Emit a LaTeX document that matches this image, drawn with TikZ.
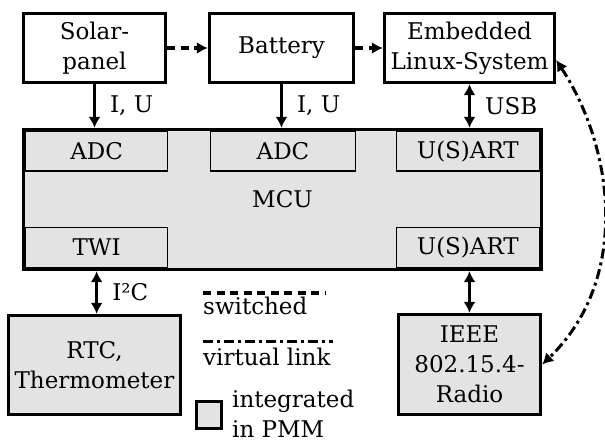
\documentclass[tikz,border=0pt]{standalone}
\usepackage{fontspec}
\setmainfont{DejaVu Serif}
\usetikzlibrary{arrows.meta}
\usetikzlibrary{positioning}
\usetikzlibrary{calc}
\definecolor{pmmgray}{HTML}{E3E3E3}

\begin{document}
\begin{tikzpicture}[x=1pt, y=-1pt,
    every node/.style={font=\fontsize{23}{30}\selectfont, inner sep=0pt},
    box/.style={rectangle, draw=black, line width=3.3pt, align=center},
    pmm/.style={box, fill=pmmgray},
    unit/.style={rectangle, draw=black, line width=1.3pt, fill=pmmgray, minimum height=39.5pt},
    link/.style={line width=3.3pt, -{Latex[length=11pt, width=12pt]}},
    bus/.style={line width=3.3pt, {Latex[length=11pt, width=12pt]}-{Latex[length=11pt, width=12pt]}},
    switchedline/.style={line width=3.3pt, dash pattern=on 8pt off 5.5pt},
    virtualline/.style={line width=3pt, dash pattern=on 10pt off 4pt on 3pt off 4pt}]

      \useasboundingbox (0,0) rectangle (605,443);

      % Top row
      \node[box, minimum width=142pt, minimum height=69pt] (solar) at (94.5, 48) {Solar-\\panel};
      \node[box, minimum width=144pt, minimum height=69pt] (battery) at (281.5, 48) {Battery};
      \node[box, minimum width=170pt, minimum height=69pt] (embedded) at (469.5, 48) {Embedded\\Linux-System};

      % Microcontroller with its units
      \node[pmm, minimum width=518pt, minimum height=140pt] (mcu) at (282.5, 199.5) {MCU};
      \node[unit, minimum width=142pt, anchor=north west] (adc1) at (25, 131) {ADC};
      \node[unit, minimum width=145pt, anchor=north] (adc2) at (283, 131) {ADC};
      \node[unit, minimum width=143pt, anchor=north east] (usart1) at (540, 131) {U(S)ART};
      \node[unit, minimum width=142pt, anchor=south west] (twi) at (25, 268) {TWI};
      \node[unit, minimum width=143pt, anchor=south east] (usart2) at (540, 268) {U(S)ART};

      % Bottom row
      \node[pmm, minimum width=172pt, minimum height=99pt] (rtc) at (94.5, 365) {RTC,\\Thermometer};
      \node[pmm, minimum width=142pt, minimum height=100pt] (radio) at (469.5, 364.5) {IEEE\\802.15.4-\\Radio};

      % Switched supply
      \draw[link, switchedline] (solar) -- (battery);
      \draw[link, switchedline] (battery) -- (embedded);

      % Measurement and buses
      \draw[link] (solar.south) -- (solar.south |- mcu.north) node[midway, right=14pt] (iu1) {I, U};
      \draw[link] (battery.south) -- (battery.south |- mcu.north) node[midway, right=14pt] (iu2) {I, U};
      \draw[bus] (embedded.south) -- (embedded.south |- mcu.north) node[midway, right=14pt] (usb) {USB};
      \draw[bus] (twi.south |- mcu.south) -- (twi.south |- rtc.north) node[midway, right=14pt] (i2c) {I²C};
      \draw[bus] (radio.north |- mcu.south) -- (radio.north);

      % Virtual link
      \coordinate (embtip) at ([yshift=-12pt]embedded.east);
      \draw[bus, virtualline] (embtip) .. controls (615, 150) and (630, 280) .. (radio.east);

      % Legend
      \coordinate (sw1) at (203, 293);
      \coordinate (sw2) at (325, 293);
      \draw[switchedline] (sw1) -- (sw2);
      \node[anchor=base west] (swtext) at (203, 315) {switched};

      \coordinate (vl1) at (203, 342);
      \coordinate (vl2) at (333, 342);
      \draw[virtualline] (vl1) -- (vl2);
      \node[anchor=base west] (vltext) at (203, 366) {virtual link};

      \node[pmm, minimum width=25pt, minimum height=27pt] (pmmkey) at (209, 415) {};
      \node[anchor=base west, align=left] (pmmtext) at (232, 437) {integrated\\in PMM};

    \end{tikzpicture}
\end{document}
